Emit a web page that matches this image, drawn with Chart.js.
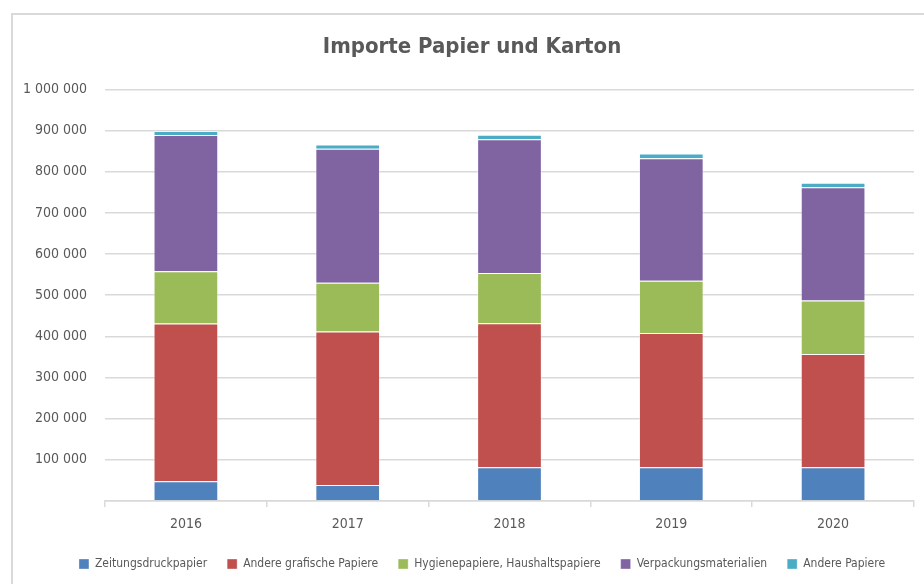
<!DOCTYPE html>
<html lang="de">
<head>
<meta charset="utf-8">
<title>Importe Papier und Karton</title>
<script src="https://cdn.jsdelivr.net/npm/chart.js@4.4.1/dist/chart.umd.min.js"></script>
<style>
  html, body { margin: 0; padding: 0; background: #fff; overflow: hidden; }
  #chart { display: block; }
</style>
</head>
<body>
<canvas id="chart" width="944" height="584"></canvas>
<script>
const years = ["2016", "2017", "2018", "2019", "2020"];
const zeitungsdruck = [48000, 39000, 82000, 82000, 82000];
const andereGrafisch = [383000, 373000, 350000, 326000, 275000];
const hygiene = [127000, 118000, 122000, 127000, 130000];
const verpackung = [331000, 326000, 325000, 298000, 275000];
const anderePapiere = [10000, 10000, 11000, 11000, 11000];
const seriesNames = [
  "Zeitungsdruckpapier",
  "Andere grafische Papiere",
  "Hygienepapiere, Haushaltspapiere",
  "Verpackungsmaterialien",
  "Andere Papiere"
];

const colors = ["#4f81bd", "#c0504d", "#9bbb59", "#8064a2", "#4bacc6"];
const narrow = "'Liberation Sans Narrow', 'DejaVu Sans Condensed', 'Arial Narrow', sans-serif";
const grey = "#595959";
const line = "#d9d9d9";

const fmt = (v) => (v === 0 ? "" : String(v).replace(/\B(?=(\d{3})+(?!\d))/g, " "));

// outer frame of the chart object + legend nudged a bit to the right
const frame = {
  id: "frame",
  beforeDraw(chart) {
    const ctx = chart.ctx;
    ctx.save();
    ctx.fillStyle = line;
    ctx.fillRect(11, 13, 2, 700);
    ctx.fillRect(11, 13, 1000, 2);
    ctx.restore();
  },
  afterLayout(chart) {
    chart.legend.left += 10;
    chart.legend.right += 10;
  }
};

const data = {
  labels: years,
  datasets: [zeitungsdruck, andereGrafisch, hygiene, verpackung, anderePapiere].map((values, i) => ({
    label: seriesNames[i],
    data: values,
    backgroundColor: colors[i],
    borderColor: "rgba(255,255,255,0.35)",
    borderWidth: 1,
    categoryPercentage: 1,
    barPercentage: 0.4
  }))
};

new Chart(document.getElementById("chart"), {
  type: "bar",
  data: data,
  plugins: [frame],
  options: {
    responsive: false,
    animation: false,
    devicePixelRatio: 1,
    layout: { padding: { top: 0, left: 0, right: 0, bottom: 4 } },
    plugins: {
      title: {
        display: true,
        text: "Importe Papier und Karton",
        color: grey,
        font: { family: narrow, size: 22, weight: "bold" },
        padding: { top: 34, bottom: 29 }
      },
      legend: {
        position: "bottom",
        labels: {
          color: grey,
          font: { family: narrow, size: 12 },
          boxWidth: 10,
          boxHeight: 10,
          padding: 20
        }
      },
      tooltip: { enabled: false }
    },
    scales: {
      x: {
        stacked: true,
        grid: { drawOnChartArea: false, drawTicks: true, tickLength: 6, offset: true, color: line, lineWidth: 1.5 },
        border: { display: true, color: line, width: 1.5 },
        ticks: { color: grey, font: { family: narrow, size: 14 }, padding: 9 },
        afterFit(scale) { scale.height = 37; }
      },
      y: {
        stacked: true,
        min: 0,
        max: 1000000,
        grid: { color: line, lineWidth: 1.5, drawTicks: false },
        border: { display: false },
        ticks: {
          stepSize: 100000,
          color: grey,
          font: { family: narrow, size: 14 },
          padding: 18,
          callback: (v) => fmt(v)
        },
        afterFit(scale) { scale.width = 105; }
      },
      y2: {
        position: "right",
        grid: { display: false, drawTicks: false },
        border: { display: false },
        ticks: { display: false },
        afterFit(scale) { scale.width = 30; }
      }
    }
  }
});
</script>
</body>
</html>
